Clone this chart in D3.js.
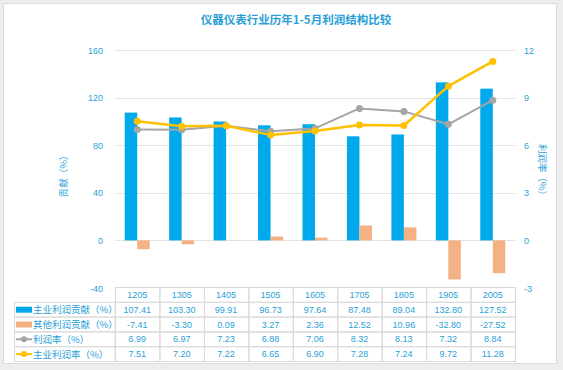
<!DOCTYPE html>
<html>
<head>
<meta charset="utf-8">
<script src="https://cdn.jsdelivr.net/npm/d3@7"></script>
<style>
  body { margin: 0; background: #ededed; }
  svg { display: block; font-family: "Noto Sans CJK SC", "Noto Sans", sans-serif; }
</style>
</head>
<body>
<div id="chart"></div>
<script>
// data
var years = ["1205", "1305", "1405", "1505", "1605", "1705", "1805", "1905", "2005"];
var mainContrib = [107.41, 103.30, 99.91, 96.73, 97.64, 87.48, 89.04, 132.80, 127.52];
var otherContrib = [-7.41, -3.30, 0.09, 3.27, 2.36, 12.52, 10.96, -32.80, -27.52];
var profitRate = [6.99, 6.97, 7.23, 6.88, 7.06, 8.32, 8.13, 7.32, 8.84];
var mainRate = [7.51, 7.20, 7.22, 6.65, 6.90, 7.28, 7.24, 9.72, 11.28];
var leftTicks = [-40, 0, 40, 80, 120, 160];
var rightTicks = [-3, 0, 3, 6, 9, 12];

var seriesNames = ["主业利润贡献（%）", "其他利润贡献（%）", "利润率（%）", "主业利润率（%）"];

var blue = "#00a9ec", orange = "#f4b183", gray = "#a5a5a5", yellow = "#ffc000";
var textBlue = "#2a9fd6";

var W = 563, H = 370;
var svg = d3.select("#chart").append("svg")
  .attr("width", W).attr("height", H);

// card background
svg.append("rect")
  .attr("x", 3.5).attr("y", 3.5).attr("width", 553).attr("height", 360)
  .attr("fill", "#fff").attr("stroke", "#dcdcdc");

// title
svg.append("text")
  .attr("x", 296).attr("y", 24)
  .attr("text-anchor", "middle")
  .attr("fill", textBlue)
  .attr("font-size", 11.5).attr("font-weight", "bold")
  .text("仪器仪表行业历年1-5月利润结构比较");

// scales
var x = d3.scaleBand().domain(years).range([115, 515]);
var yL = d3.scaleLinear().domain([-40, 160]).range([288, 50]);
var yR = d3.scaleLinear().domain([-3, 12]).range([288, 50]);
var barW = 12.5;

// gridlines
svg.append("g").selectAll("line")
  .data(leftTicks.filter(function(d) { return d > -40; }))
  .enter().append("line")
  .attr("x1", 115).attr("x2", 515)
  .attr("y1", function(d) { return Math.round(yL(d)) + 0.5; })
  .attr("y2", function(d) { return Math.round(yL(d)) + 0.5; })
  .attr("stroke", "#e3e3e3");

// left axis labels
svg.append("g").selectAll("text")
  .data(leftTicks).enter().append("text")
  .attr("x", 103).attr("y", function(d) { return yL(d) + 3.5; })
  .attr("text-anchor", "end")
  .attr("fill", textBlue).attr("font-size", 9)
  .attr("font-family", "Liberation Sans, sans-serif")
  .text(function(d) { return d; });

// right axis labels
svg.append("g").selectAll("text")
  .data(rightTicks).enter().append("text")
  .attr("x", 524).attr("y", function(d) { return yR(d) + 3.5; })
  .attr("text-anchor", "start")
  .attr("fill", textBlue).attr("font-size", 9)
  .attr("font-family", "Liberation Sans, sans-serif")
  .text(function(d) { return d; });

// axis titles
svg.append("text")
  .attr("transform", "translate(67,174) rotate(-90)")
  .attr("text-anchor", "middle")
  .attr("fill", textBlue).attr("font-size", 9.5)
  .text("贡献（%）");
svg.append("text")
  .attr("transform", "translate(539,172) rotate(90)")
  .attr("text-anchor", "middle")
  .attr("fill", textBlue).attr("font-size", 9.5)
  .text("利润率（%）");

// bars
svg.append("g").selectAll("rect")
  .data(mainContrib).enter().append("rect")
  .attr("x", function(d, i) { return x(years[i]) + x.bandwidth() / 2 - barW; })
  .attr("width", barW)
  .attr("y", function(d) { return yL(Math.max(0, d)); })
  .attr("height", function(d) { return Math.abs(yL(d) - yL(0)); })
  .attr("fill", blue);

svg.append("g").selectAll("rect")
  .data(otherContrib).enter().append("rect")
  .attr("x", function(d, i) { return x(years[i]) + x.bandwidth() / 2; })
  .attr("width", barW)
  .attr("y", function(d) { return yL(Math.max(0, d)); })
  .attr("height", function(d) { return Math.abs(yL(d) - yL(0)); })
  .attr("fill", orange);

// lines
function drawLine(values, color, width) {
  var line = d3.line()
    .x(function(d, i) { return x(years[i]) + x.bandwidth() / 2; })
    .y(function(d) { return yR(d); });
  svg.append("path")
    .datum(values)
    .attr("fill", "none")
    .attr("stroke", color)
    .attr("stroke-width", width)
    .attr("stroke-linejoin", "round")
    .attr("d", line);
  svg.append("g").selectAll("circle")
    .data(values).enter().append("circle")
    .attr("cx", function(d, i) { return x(years[i]) + x.bandwidth() / 2; })
    .attr("cy", function(d) { return yR(d); })
    .attr("r", 3.5)
    .attr("fill", color);
}
drawLine(profitRate, gray, 2);
drawLine(mainRate, yellow, 2.5);

// data table
var rowTop = 287, rowH = 14.8;
var table = svg.append("g");
var rows = [mainContrib, otherContrib, profitRate, mainRate];

// header cells
table.selectAll("rect.hd")
  .data(years).enter().append("rect")
  .attr("x", function(d) { return x(d) + 0.5; })
  .attr("y", rowTop + 0.5)
  .attr("width", x.bandwidth())
  .attr("height", rowH)
  .attr("fill", "none").attr("stroke", "#dadada");
table.selectAll("text.hd")
  .data(years).enter().append("text")
  .attr("x", function(d) { return x(d) + x.bandwidth() / 2; })
  .attr("y", rowTop + rowH / 2 + 3.5)
  .attr("text-anchor", "middle")
  .attr("fill", textBlue).attr("font-size", 9)
  .attr("font-family", "Liberation Sans, sans-serif")
  .text(function(d) { return d; });

rows.forEach(function(vals, r) {
  var top = rowTop + rowH * (r + 1);
  // legend cell
  table.append("rect")
    .attr("x", 14.5).attr("y", top + 0.5)
    .attr("width", 100.5).attr("height", rowH)
    .attr("fill", "none").attr("stroke", "#dadada");
  table.selectAll(null)
    .data(vals).enter().append("rect")
    .attr("x", function(d, i) { return x(years[i]) + 0.5; })
    .attr("y", top + 0.5)
    .attr("width", x.bandwidth())
    .attr("height", rowH)
    .attr("fill", "none").attr("stroke", "#dadada");
  table.selectAll(null)
    .data(vals).enter().append("text")
    .attr("x", function(d, i) { return x(years[i]) + x.bandwidth() / 2; })
    .attr("y", top + rowH / 2 + 3.5)
    .attr("text-anchor", "middle")
    .attr("fill", textBlue).attr("font-size", 9)
    .attr("font-family", "Liberation Sans, sans-serif")
    .text(function(d) { return d.toFixed(2); });

  // legend key
  var cy = top + rowH / 2 + 0.5;
  if (r < 2) {
    table.append("rect")
      .attr("x", 16).attr("y", cy - 3).attr("width", 16).attr("height", 6)
      .attr("fill", r === 0 ? blue : orange);
  } else {
    var c = r === 2 ? gray : yellow;
    table.append("line")
      .attr("x1", 16).attr("x2", 32).attr("y1", cy).attr("y2", cy)
      .attr("stroke", c).attr("stroke-width", 2);
    table.append("circle")
      .attr("cx", 24).attr("cy", cy).attr("r", 3).attr("fill", c);
  }
  table.append("text")
    .attr("x", 33).attr("y", cy + 3.5)
    .attr("fill", textBlue).attr("font-size", 9.5)
    .text(seriesNames[r]);
});
</script>
</body>
</html>
